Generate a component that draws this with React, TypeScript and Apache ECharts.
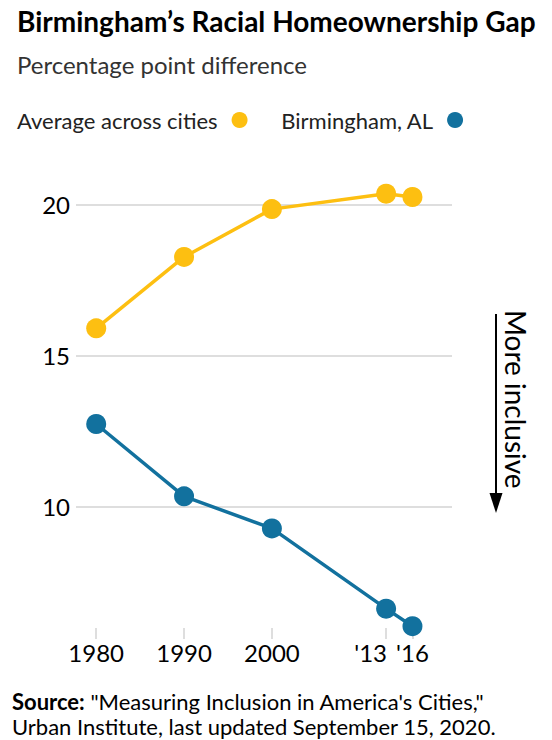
import { useEffect, useRef } from "react";
import * as echarts from "echarts";

const years = [1980, 1990, 2000, 2013, 2016];
const tickLabels = ["1980", "1990", "2000", "'13", "'16"];
const averageGap = [15.9, 18.26, 19.84, 20.35, 20.24];
const birminghamGap = [12.74, 10.35, 9.29, 6.64, 6.06];
const yTicks = [10, 15, 20];

const YELLOW = "#fdbf11";
const BLUE = "#12719e";
const FONT = "Lato";

const App = () => {
  const chartRef = useRef<HTMLDivElement>(null);

  useEffect(() => {
    if (!chartRef.current) return;
    const chart = echarts.init(chartRef.current, null, { renderer: "svg" });

    const option: echarts.EChartsOption = {
      animation: false,
      backgroundColor: "#fff",
      textStyle: { fontFamily: FONT },
      title: [
        {
          text: "Birmingham’s Racial Homeownership Gap",
          left: 12,
          top: 2,
          textStyle: { fontFamily: FONT, fontSize: 28, fontWeight: "bold", color: "#000" },
        },
        {
          text: "Percentage point difference",
          left: 12,
          top: 47,
          textStyle: { fontFamily: FONT, fontSize: 24, fontWeight: "normal", color: "#333" },
        },
      ],
      legend: {
        left: 12,
        top: 104,
        align: "right",
        icon: "circle",
        itemWidth: 16,
        itemHeight: 16,
        itemGap: 33,
        data: ["Average across cities", "Birmingham, AL"],
        textStyle: { fontFamily: FONT, fontSize: 22, color: "#222", padding: [0, 9, 0, 0] },
      },
      grid: { left: 76, right: 100, top: 174, bottom: 112 },
      xAxis: {
        type: "value",
        min: 1977.7,
        max: 2020.5,
        axisLine: { show: false },
        splitLine: { show: false },
        axisTick: {
          show: true,
          customValues: years,
          length: 11,
          lineStyle: { color: "#dedede", width: 2 },
        },
        axisLabel: {
          customValues: years,
          hideOverlap: false,
          formatter: (v: number) => {
            const label = tickLabels[years.indexOf(v)] ?? "";
            // the '13 label sits left of its tick so it clears '16
            return v === 2013 ? `{shift|${label}}` : label;
          },
          rich: {
            shift: { fontFamily: FONT, fontSize: 24, color: "#000", padding: [0, 31, 0, 0] },
          },
          fontFamily: FONT,
          fontSize: 24,
          color: "#000",
          margin: 12,
        },
      },
      yAxis: {
        type: "value",
        min: 6,
        max: 21,
        axisLine: { show: false },
        axisTick: { show: false },
        splitLine: { show: false },
        axisLabel: {
          customValues: yTicks,
          fontFamily: FONT,
          fontSize: 24,
          color: "#000",
          margin: 6,
        },
      },
      series: [
        {
          name: "grid",
          type: "line",
          data: [],
          silent: true,
          markLine: {
            silent: true,
            symbol: "none",
            z: 1,
            label: { show: false },
            lineStyle: { color: "#dedede", width: 2, type: "solid" },
            data: yTicks.map((v) => ({ yAxis: v })),
          },
        },
        {
          name: "Average across cities",
          type: "line",
          data: years.map((y, i) => [y, averageGap[i]]),
          symbol: "circle",
          symbolSize: 20,
          lineStyle: { color: YELLOW, width: 3.5 },
          itemStyle: { color: YELLOW },
          z: 3,
        },
        {
          name: "Birmingham, AL",
          type: "line",
          data: years.map((y, i) => [y, birminghamGap[i]]),
          symbol: "circle",
          symbolSize: 20,
          lineStyle: { color: BLUE, width: 3.5 },
          itemStyle: { color: BLUE },
          z: 3,
        },
      ],
      graphic: [
        {
          type: "line",
          shape: { x1: 496, y1: 314, x2: 496, y2: 496 },
          style: { stroke: "#000", lineWidth: 2 },
        },
        {
          type: "polygon",
          shape: { points: [[489.5, 493], [502.5, 493], [496, 513]] },
          style: { fill: "#000" },
        },
        {
          type: "text",
          x: 516,
          y: 310,
          rotation: -Math.PI / 2,
          style: {
            text: "More inclusive",
            fontFamily: FONT,
            fontSize: 28,
            fill: "#000",
            align: "left",
            verticalAlign: "middle",
          },
        },
        {
          type: "text",
          left: 12,
          top: 689,
          style: {
            text: "{b|Source:} \"Measuring Inclusion in America's Cities,\"\nUrban Institute, last updated September 15, 2020.",
            fontFamily: FONT,
            fontSize: 22,
            lineHeight: 25,
            fill: "#000",
            rich: {
              b: { fontFamily: FONT, fontSize: 22, fontWeight: "bold", lineHeight: 25, fill: "#000" },
            },
          },
        },
      ],
    };

    chart.setOption(option);
    return () => chart.dispose();
  }, []);

  return (
    <div
      ref={chartRef}
      style={{ position: "absolute", left: 0, top: 0, width: 552, height: 740 }}
    />
  );
};

export default App;
